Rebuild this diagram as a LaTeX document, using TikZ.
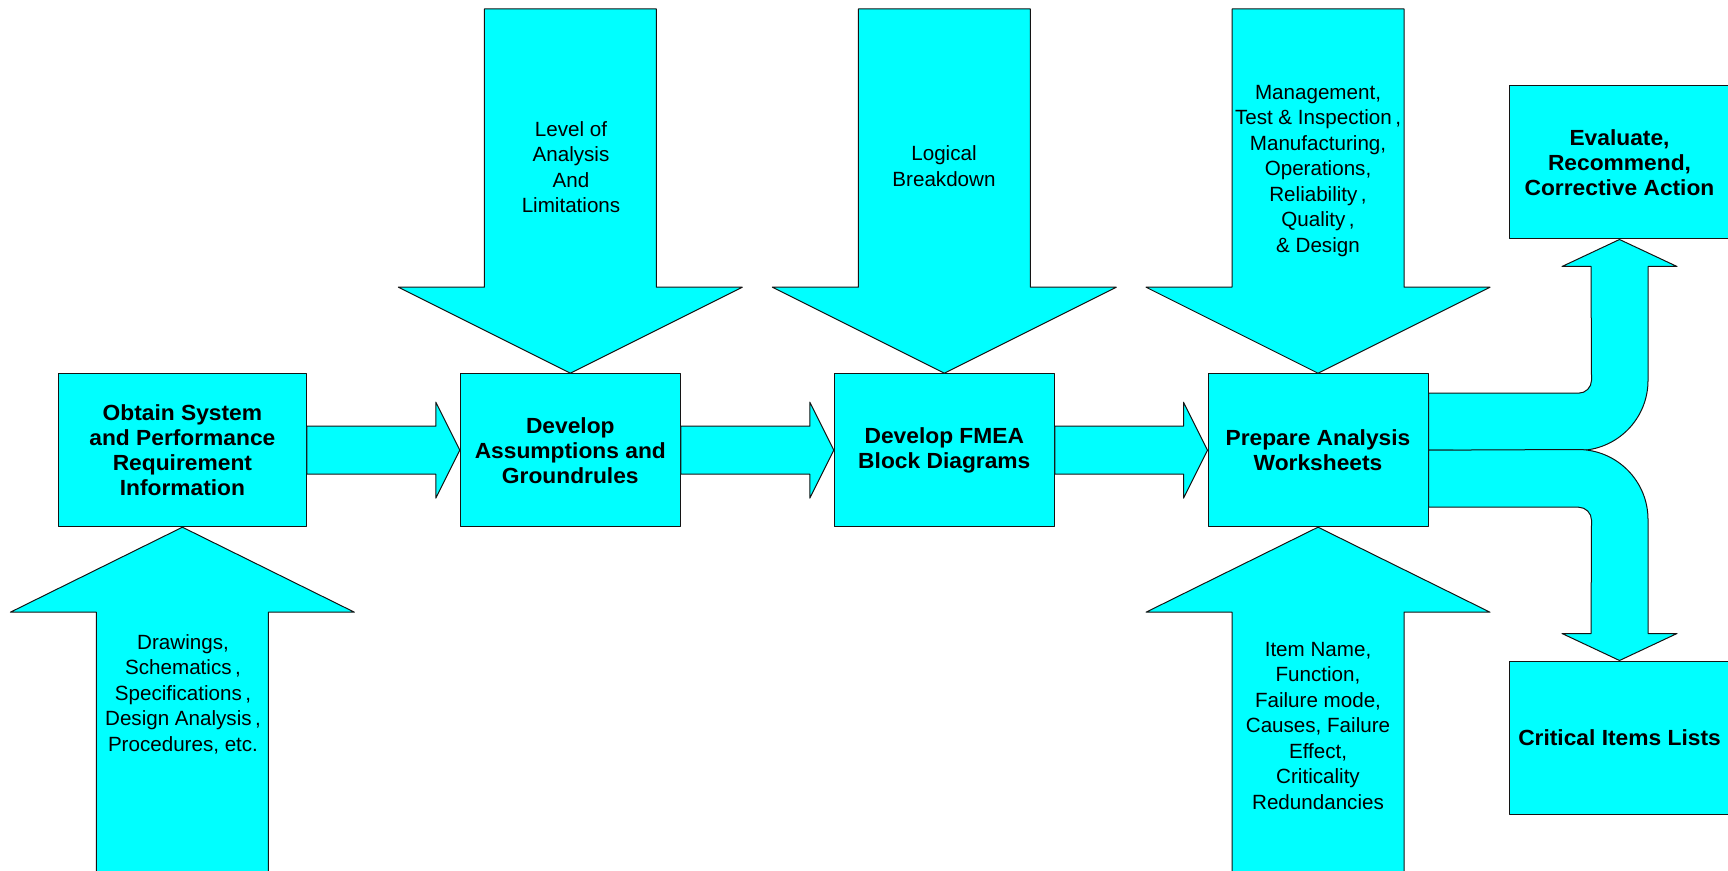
\documentclass[tikz,border=0pt]{standalone}
\usepackage{fontspec}
\setmainfont{Liberation Sans}[BoldFeatures={FakeStretch=1.04}]
\usetikzlibrary{calc}
\definecolor{qqffff}{rgb}{0,1,1}
\definecolor{qqqqqq}{rgb}{0.08,0.08,0.08}

\begin{document}
\begin{tikzpicture}[line cap=round,line join=round,x=0.5pt,y=-0.5pt,
	blockarrow/.style={draw=qqqqqq,fill=qqffff,line width=0.5pt},
	stepbox/.style={draw=qqqqqq,fill=qqffff,line width=0.5pt,minimum width=110pt,minimum height=76.5pt,inner sep=0pt,align=center,font=\fontsize{10.95pt}{12.5pt}\selectfont\bfseries},
	intext/.style={align=center,inner sep=0pt,font=\fontsize{10.3pt}{12.75pt}\selectfont}]
	\clip(0,0) rectangle (1728,871);
	% process boxes
	\node[stepbox,minimum width=124pt] (obtain) at (182.4,450.2) {Obtain System\\and Performance\\Requirement\\Information};
	\node[stepbox] (assume) at (570.3,450.2) {Develop\\Assumptions and\\Groundrules};
	\node[stepbox] (fmea) at (944.3,450.2) {Develop FMEA\\Block Diagrams};
	\node[stepbox] (prepare) at (1318,450.2) {Prepare Analysis\\Worksheets};
	\node[stepbox,minimum width=110.5pt] (evaluate) at (1619.5,162.5) {Evaluate,\\Recommend,\\Corrective Action};
	\node[stepbox,minimum width=110.5pt] (critical) at (1619.5,737.5) {Critical Items Lists};
	% free ends of the input arrows
	\coordinate (lvl) at (assume.north |- 0,9);
	\coordinate (logic) at (fmea.north |- 0,9);
	\coordinate (mgt) at (prepare.north |- 0,9);
	\coordinate (drw) at (obtain.south |- 0,880);
	\coordinate (item) at (prepare.south |- 0,880);
	% flow arrows
	\draw[blockarrow] ($(obtain.east)+(0,-24)$) -- ($(assume.west)+(-24,-24)$) -- ($(assume.west)+(-24,-48)$) -- (assume.west) -- ($(assume.west)+(-24,48)$) -- ($(assume.west)+(-24,24)$) -- ($(obtain.east)+(0,24)$) -- cycle;
	\draw[blockarrow] ($(assume.east)+(0,-24)$) -- ($(fmea.west)+(-24,-24)$) -- ($(fmea.west)+(-24,-48)$) -- (fmea.west) -- ($(fmea.west)+(-24,48)$) -- ($(fmea.west)+(-24,24)$) -- ($(assume.east)+(0,24)$) -- cycle;
	\draw[blockarrow] ($(fmea.east)+(0,-24)$) -- ($(prepare.west)+(-24,-24)$) -- ($(prepare.west)+(-24,-48)$) -- (prepare.west) -- ($(prepare.west)+(-24,48)$) -- ($(prepare.west)+(-24,24)$) -- ($(fmea.east)+(0,24)$) -- cycle;
	% input arrows from above
	\draw[blockarrow] ($(lvl)+(-86,0)$) -- ($(assume.north)+(-86,-86)$) -- ($(assume.north)+(-172,-86)$) -- (assume.north) -- ($(assume.north)+(172,-86)$) -- ($(assume.north)+(86,-86)$) -- ($(lvl)+(86,0)$) -- cycle;
	\draw[blockarrow] ($(logic)+(-86,0)$) -- ($(fmea.north)+(-86,-86)$) -- ($(fmea.north)+(-172,-86)$) -- (fmea.north) -- ($(fmea.north)+(172,-86)$) -- ($(fmea.north)+(86,-86)$) -- ($(logic)+(86,0)$) -- cycle;
	\draw[blockarrow] ($(mgt)+(-86,0)$) -- ($(prepare.north)+(-86,-86)$) -- ($(prepare.north)+(-172,-86)$) -- (prepare.north) -- ($(prepare.north)+(172,-86)$) -- ($(prepare.north)+(86,-86)$) -- ($(mgt)+(86,0)$) -- cycle;
	% input arrows from below
	\draw[blockarrow] ($(drw)+(-86,0)$) -- ($(obtain.south)+(-86,85)$) -- ($(obtain.south)+(-172,85)$) -- (obtain.south) -- ($(obtain.south)+(172,85)$) -- ($(obtain.south)+(86,85)$) -- ($(drw)+(86,0)$) -- cycle;
	\draw[blockarrow] ($(item)+(-86,0)$) -- ($(prepare.south)+(-86,85)$) -- ($(prepare.south)+(-172,85)$) -- (prepare.south) -- ($(prepare.south)+(172,85)$) -- ($(prepare.south)+(86,85)$) -- ($(item)+(86,0)$) -- cycle;
	% split arrow
	\draw[blockarrow] ($(prepare.east)+(0,-57)$) -- ($(prepare.east)+(150,-57)$) arc[start angle=90,end angle=0,radius=13] -- ($(evaluate.south)+(-28.5,27)$) -- ($(evaluate.south)+(-57.5,27)$) -- (evaluate.south) -- ($(evaluate.south)+(57.5,27)$) -- ($(evaluate.south)+(28.5,27)$) -- ($(evaluate.south)+(28.5,141)$) arc[start angle=0,end angle=90,radius=70] -- (prepare.east) -- cycle;
	\draw[blockarrow] ($(prepare.east)+(0,57)$) -- ($(prepare.east)+(150,57)$) arc[start angle=-90,end angle=0,radius=13] -- ($(critical.north)+(-28.5,-27)$) -- ($(critical.north)+(-57.5,-27)$) -- (critical.north) -- ($(critical.north)+(57.5,-27)$) -- ($(critical.north)+(28.5,-27)$) -- ($(critical.north)+(28.5,-141)$) arc[start angle=0,end angle=-90,radius=70] -- (prepare.east) -- cycle;
	% texts in the arrows
	\node[intext] (lvltxt) at (571,167) {Level of\\Analysis\\And\\Limitations};
	\node[intext] (logtxt) at (944,166) {Logical\\Breakdown};
	\node[intext] (mgttxt) at (1318,171) {Management,\\Test \& Inspection\,,\\Manufacturing,\\Operations,\\Reliability\,,\\Quality\,,\\\& Design};
	\node[intext] (drwtxt) at (183,694) {Drawings,\\Schematics\,,\\Specifications\,,\\Design Analysis\,,\\Procedures, etc.};
	\node[intext] (itemtxt) at (1318,726) {Item Name,\\Function,\\Failure mode,\\Causes, Failure\\Effect,\\Criticality\\Redundancies};
\end{tikzpicture}
\end{document}
